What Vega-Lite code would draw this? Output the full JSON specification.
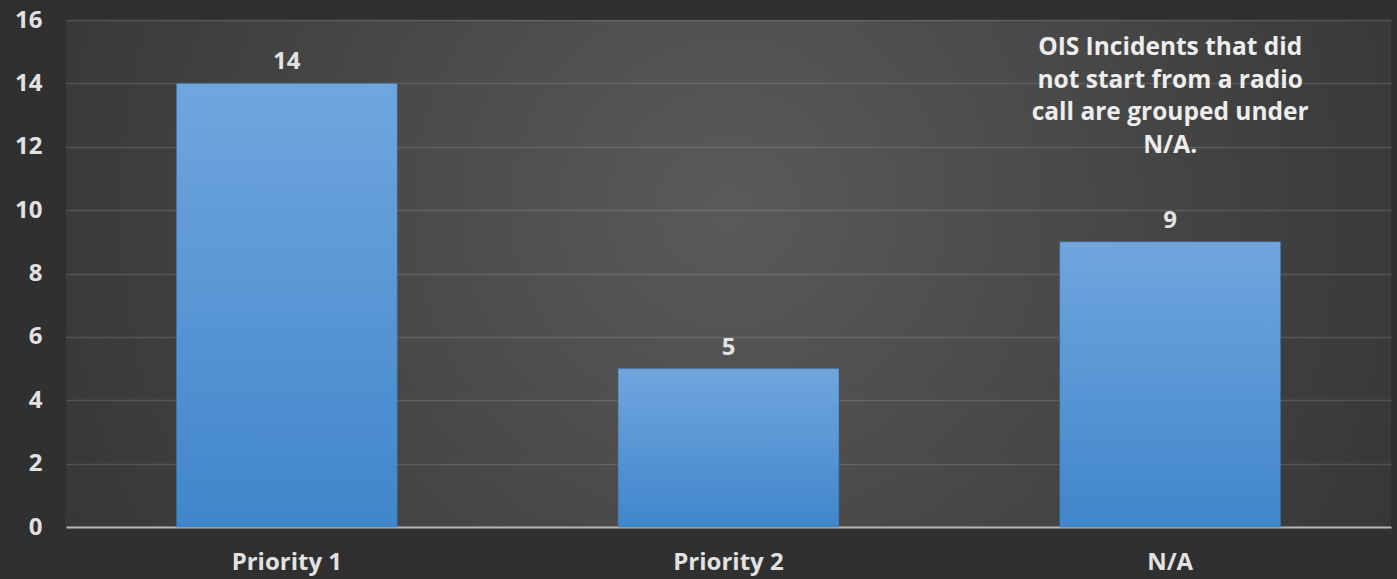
{
  "$schema": "https://vega.github.io/schema/vega-lite/v6.json",
  "width": 1325,
  "height": 507,
  "autosize": {"type": "none"},
  "padding": {"left": 66, "top": 20, "right": 6, "bottom": 52},
  "background": "#303030",
  "config": {
    "view": {
      "stroke": null,
      "fill": {
        "gradient": "radial",
        "x1": 0.5, "y1": 0.45, "r1": 0,
        "x2": 0.5, "y2": 0.45, "r2": 0.75,
        "stops": [
          {"offset": 0, "color": "#5a5a5a"},
          {"offset": 0.6, "color": "#3d3d3d"},
          {"offset": 1, "color": "#2c2c2c"}
        ]
      }
    },
    "font": "Open Sans",
    "axis": {
      "labelFont": "Open Sans",
      "labelFontWeight": "bold",
      "labelFontSize": 24,
      "labelColor": "#e2e2e2",
      "ticks": false,
      "title": null
    }
  },
  "data": {
    "values": [
      {"category": "Priority 1", "count": 14},
      {"category": "Priority 2", "count": 5},
      {"category": "N/A", "count": 9}
    ]
  },
  "layer": [
    {
      "mark": {
        "type": "bar",
        "fill": {
          "gradient": "linear",
          "x1": 0, "y1": 0, "x2": 0, "y2": 1,
          "stops": [
            {"offset": 0, "color": "#70a6de"},
            {"offset": 1, "color": "#4086cb"}
          ]
        },
        "stroke": "#3a6fa5",
        "strokeWidth": 0.5
      },
      "encoding": {
        "x": {
          "field": "category",
          "type": "nominal",
          "sort": null,
          "scale": {"paddingInner": 0.5, "paddingOuter": 0.25},
          "axis": {
            "labelAngle": 0,
            "labelPadding": 23,
            "domainColor": "#b5b5b5",
            "domainWidth": 2,
            "grid": false
          }
        },
        "y": {
          "field": "count",
          "type": "quantitative",
          "scale": {"domain": [0, 16]},
          "axis": {
            "values": [0, 2, 4, 6, 8, 10, 12, 14, 16],
            "domain": false,
            "labelPadding": 24,
            "gridColor": "#ffffff",
            "gridOpacity": 0.13,
            "gridWidth": 1.5
          }
        }
      }
    },
    {
      "mark": {
        "type": "text",
        "baseline": "alphabetic",
        "dy": -14,
        "font": "Open Sans",
        "fontWeight": "bold",
        "fontSize": 24,
        "color": "#e2e2e2"
      },
      "encoding": {
        "x": {"field": "category", "type": "nominal", "sort": null},
        "y": {"field": "count", "type": "quantitative"},
        "text": {"field": "count", "type": "quantitative"}
      }
    },
    {
      "data": {"values": [{"category": "N/A", "note": "OIS Incidents that did\nnot start from a radio\ncall are grouped under\nN/A."}]},
      "mark": {
        "type": "text",
        "baseline": "top",
        "align": "center",
        "lineBreak": "\n",
        "font": "Open Sans",
        "fontWeight": "bold",
        "fontSize": 24.5,
        "lineHeight": 32.7,
        "color": "#ededed"
      },
      "encoding": {
        "x": {"field": "category", "type": "nominal", "sort": null},
        "y": {"datum": 15.5, "type": "quantitative"},
        "text": {"field": "note", "type": "nominal"}
      }
    }
  ]
}
